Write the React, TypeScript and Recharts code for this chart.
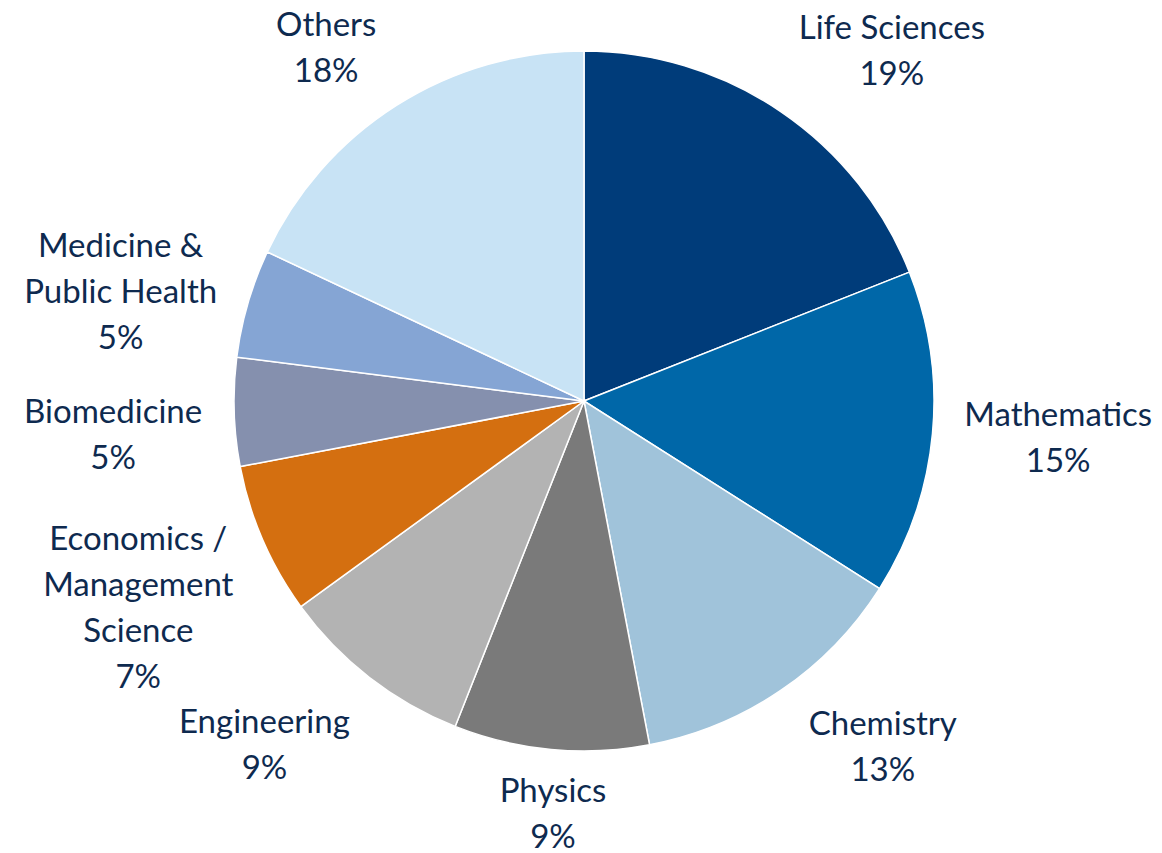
import { PieChart, Pie, Cell } from 'recharts';

const categories = [
  'Life Sciences',
  'Mathematics',
  'Chemistry',
  'Physics',
  'Engineering',
  'Economics /\nManagement\nScience',
  'Biomedicine',
  'Medicine &\nPublic Health',
  'Others',
];
const shares = [19, 15, 13, 9, 9, 7, 5, 5, 18];

const colors = [
  '#003C7A',
  '#0067A8',
  '#A0C3DA',
  '#7A7A7A',
  '#B3B3B3',
  '#D46F10',
  '#8590AE',
  '#85A5D4',
  '#C8E3F5',
];

// small nudges, like Excel's best-fit label placement
const labelNudgeX = [0, 0, 10, 15, 0, 0, 0, 0, -3];
const labelNudgeY = [0, -8, -8, -3, 4, -15, 17, 31, 3];

const FONT = 'Lato, "Open Sans", sans-serif';
const FONT_SIZE = 33;
const LINE_H = 46;
const TEXT_COLOR = '#0E2A4F';
const RADIAN = Math.PI / 180;

const data = categories.map((name, i) => ({ name, value: shares[i] }));

let ctx: CanvasRenderingContext2D | null = null;
function textWidth(s: string) {
  if (!ctx) {
    ctx = document.createElement('canvas').getContext('2d');
  }
  if (!ctx) return s.length * FONT_SIZE * 0.5;
  ctx.font = `${FONT_SIZE}px ${FONT}`;
  return ctx.measureText(s).width;
}

const clamp = (v: number) => Math.max(-1, Math.min(1, v));

function renderLabel(props: any) {
  const { cx, cy, midAngle, outerRadius, index, value, name } = props;
  const lines = [...String(name).split('\n'), `${value}%`];
  const w = Math.max(...lines.map(textWidth));
  const h = lines.length * LINE_H;
  const dirX = Math.cos(-midAngle * RADIAN);
  const dirY = Math.sin(-midAngle * RADIAN);
  const px = cx + (outerRadius + 32) * dirX + (w / 2) * clamp(dirX * 2) + labelNudgeX[index];
  const py = cy + (outerRadius + 20) * dirY + (h / 2) * clamp(dirY * 2) + labelNudgeY[index];
  const top = py - h / 2;
  return (
    <text
      key={`label-${index}`}
      x={px}
      y={top}
      fill={TEXT_COLOR}
      fontFamily={FONT}
      fontSize={FONT_SIZE}
      textAnchor="middle"
    >
      {lines.map((line, i) => (
        <tspan key={i} x={px} y={top + LINE_H * (i + 0.5)} dominantBaseline="central">
          {line}
        </tspan>
      ))}
    </text>
  );
}

export default function App() {
  return (
    <div style={{ position: 'absolute', left: 0, top: 0, background: '#fff' }}>
      <PieChart width={1162} height={853} margin={{ top: 0, right: 0, bottom: 0, left: 0 }}>
        <Pie
          data={data}
          dataKey="value"
          nameKey="name"
          cx={584}
          cy={401}
          outerRadius={350}
          startAngle={90}
          endAngle={-270}
          stroke="#fff"
          strokeWidth={1.5}
          label={renderLabel}
          labelLine={false}
          isAnimationActive={false}
        >
          {data.map((d, i) => (
            <Cell key={d.name} fill={colors[i]} />
          ))}
        </Pie>
      </PieChart>
    </div>
  );
}
